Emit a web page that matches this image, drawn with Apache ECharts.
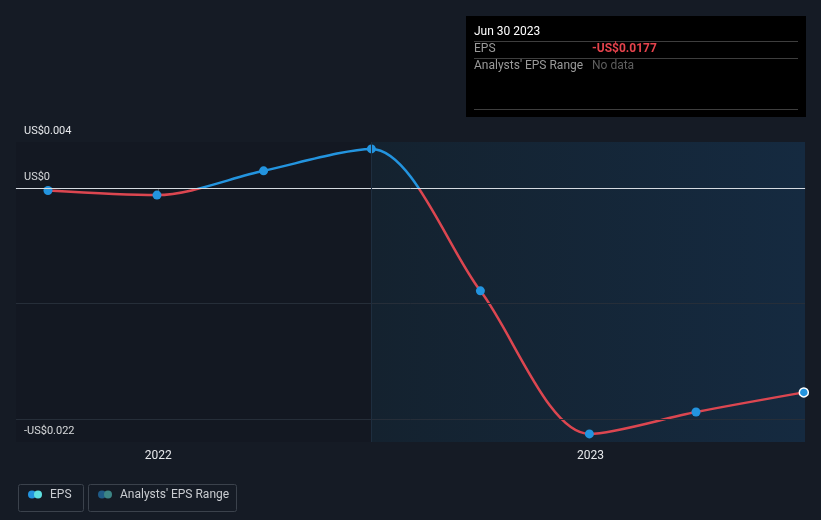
<!DOCTYPE html>
<html>
<head>
<meta charset="utf-8">
<style>
  html, body { margin: 0; padding: 0; background: #151b25; }
  #chart { width: 821px; height: 520px; }
</style>
<script src="https://cdn.jsdelivr.net/npm/echarts@6/dist/echarts.min.js"></script>
</head>
<body>
<div id="chart"></div>
<script>
// ---- data ----
const periodDates = ['2021-09-30', '2021-12-31', '2022-03-31', '2022-06-30', '2022-09-30', '2022-12-31', '2023-03-31', '2023-06-30'];
const epsValues = [-0.0002, -0.0006, 0.0015, 0.0034, -0.0089, -0.0213, -0.0194, -0.0177];
const yTickValues = [-0.022, 0, 0.004];
const yTickLabels = ['-US$0.022', 'US$0', 'US$0.004'];
const xTickDates = ['2022-01-01', '2023-01-01'];
const axisStart = '2021-09-03';
const axisEnd = '2023-07-01';
const actualStart = '2022-06-30';
const tooltipTitle = 'Jun 30 2023';
const tooltipEps = '-US$0.0177';

function t(s) { const p = s.split('-').map(Number); return Date.UTC(p[0], p[1] - 1, p[2]); }

const pts = periodDates.map((d, i) => [t(d), epsValues[i]]);
const lastIdx = pts.length - 1;
const scatterData = pts.map((p, i) => i === lastIdx
  ? { value: p, itemStyle: { borderColor: '#ffffff', borderWidth: 1.5 } }
  : { value: p });

const chart = echarts.init(document.getElementById('chart'), null, { renderer: 'canvas' });
const font = 'Roboto, "Noto Sans", sans-serif';
const BLUE = '#2394df', RED = '#dc4650';

chart.setOption({
  backgroundColor: '#151b25',
  animation: false,
  textStyle: { fontFamily: font },
  grid: { left: 16, right: 16, top: 142, bottom: 78 },
  xAxis: {
    type: 'value',
    min: t(axisStart),
    max: t(axisEnd),
    axisLine: { show: true, lineStyle: { color: '#3b424c', width: 1 } },
    axisTick: { show: true, customValues: xTickDates.map(t), length: 4, lineStyle: { color: '#4a515b' } },
    axisLabel: {
      customValues: xTickDates.map(t),
      formatter: v => String(new Date(v).getUTCFullYear()),
      color: '#e6e8eb', fontSize: 12, margin: 8, fontFamily: font
    },
    splitLine: { show: false }
  },
  yAxis: {
    type: 'value',
    min: -0.022,
    max: 0.004,
    axisLine: { show: false },
    axisTick: { show: false },
    splitLine: { show: false },
    axisLabel: {
      inside: true,
      customValues: yTickValues,
      formatter: v => { const i = yTickValues.findIndex(x => Math.abs(x - v) < 1e-9); return i >= 0 ? yTickLabels[i] : ''; },
      color: '#e6e8eb', fontSize: 11, margin: 8, verticalAlign: 'bottom', padding: [0, 0, 5, 0], fontFamily: font
    }
  },
  series: [
    {
      type: 'line',
      data: pts,
      smooth: 0.3,
      showSymbol: false,
      lineStyle: { width: 2.5, color: BLUE },
      z: 3,
      markArea: {
        silent: true,
        data: [
          [{ xAxis: t(axisStart), itemStyle: { color: 'rgba(0,0,0,0.08)' } }, { xAxis: t(actualStart) }],
          [{
            xAxis: t(actualStart),
            itemStyle: { color: new echarts.graphic.LinearGradient(0, 0, 1, 0, [
              { offset: 0, color: '#14222f' }, { offset: 1, color: '#152a40' }]) },
            label: { show: true, position: 'insideTopRight', formatter: 'Actual', color: '#e6e8eb', fontSize: 11, distance: [8, 6], fontFamily: font }
          }, { xAxis: t(axisEnd) }]
        ]
      },
      markLine: {
        silent: true,
        symbol: 'none',
        label: { show: false },
        data: [
          { yAxis: 0.004, lineStyle: { color: '#3d444e', width: 1, type: 'solid' } },
          { yAxis: -0.01, lineStyle: { color: '#262e39', width: 1, type: 'solid' } },
          { yAxis: -0.02, lineStyle: { color: '#262e39', width: 1, type: 'solid' } },
          { yAxis: 0, lineStyle: { color: '#d5dae0', width: 1, type: 'solid' } },
          { xAxis: t(actualStart), lineStyle: { color: '#1e2e3f', width: 1, type: 'solid' } }
        ]
      }
    },
    {
      type: 'scatter',
      data: scatterData,
      symbol: 'circle',
      symbolSize: 9,
      itemStyle: { color: BLUE, opacity: 1 },
      z: 4,
      silent: true
    }
  ],
  graphic: [
    // tooltip box
    { type: 'rect', left: 466, top: 16, shape: { width: 340, height: 101 }, style: { fill: '#000000' } },
    { type: 'text', left: 474, top: 26, style: { text: tooltipTitle, fill: '#ffffff', font: '12px ' + font } },
    { type: 'line', shape: { x1: 474, y1: 41.5, x2: 798, y2: 41.5 }, style: { stroke: '#3e3e3e', lineWidth: 1 } },
    { type: 'text', left: 474, top: 43, style: { text: 'EPS', fill: '#9a9a9a', font: '12px ' + font } },
    { type: 'text', left: 592, top: 43, style: { text: tooltipEps, fill: '#e5434c', font: 'bold 12px ' + font } },
    { type: 'line', shape: { x1: 474, y1: 58.5, x2: 798, y2: 58.5 }, style: { stroke: '#3e3e3e', lineWidth: 1 } },
    { type: 'text', left: 474, top: 60, style: { text: "Analysts' EPS Range", fill: '#9a9a9a', font: '12px ' + font } },
    { type: 'text', left: 592, top: 60, style: { text: 'No data', fill: '#5e5e5e', font: '12px ' + font } },
    { type: 'line', shape: { x1: 474, y1: 109.5, x2: 798, y2: 109.5 }, style: { stroke: '#3e3e3e', lineWidth: 1 } },
    // legend
    { type: 'rect', left: 16, top: 482, shape: { width: 65, height: 27, r: 2 }, style: { fill: 'none', stroke: '#3b424c', lineWidth: 1 } },
    { type: 'circle', shape: { cx: 32, cy: 494.5, r: 4 }, style: { fill: BLUE } },
    { type: 'circle', shape: { cx: 38, cy: 494.5, r: 4 }, style: { fill: '#5ee0e0' } },
    { type: 'text', left: 50, top: 489, style: { text: 'EPS', fill: '#c9ccd1', font: '12px ' + font } },
    { type: 'rect', left: 86, top: 482, shape: { width: 148, height: 27, r: 2 }, style: { fill: 'none', stroke: '#3b424c', lineWidth: 1 } },
    { type: 'circle', shape: { cx: 102, cy: 494.5, r: 4 }, style: { fill: '#1f5b87' } },
    { type: 'circle', shape: { cx: 108, cy: 494.5, r: 4 }, style: { fill: '#3c8585' } },
    { type: 'text', left: 120, top: 489, style: { text: "Analysts' EPS Range", fill: '#c9ccd1', font: '12px ' + font } }
  ]
});

// colour the line blue above zero, red below, using the axis scale for the split
const yTop = chart.convertToPixel({ gridIndex: 0 }, [t(axisStart), 0.004])[1];
const yBot = chart.convertToPixel({ gridIndex: 0 }, [t(axisStart), -0.022])[1];
const yZero = chart.convertToPixel({ gridIndex: 0 }, [t(axisStart), 0])[1];
const off = (yZero - yTop) / (yBot - yTop);
chart.setOption({
  series: [{
    lineStyle: {
      color: new echarts.graphic.LinearGradient(0, yTop, 0, yBot, [
        { offset: 0, color: BLUE }, { offset: off, color: BLUE },
        { offset: off, color: RED }, { offset: 1, color: RED }
      ], true)
    }
  }]
});
</script>
</body>
</html>
